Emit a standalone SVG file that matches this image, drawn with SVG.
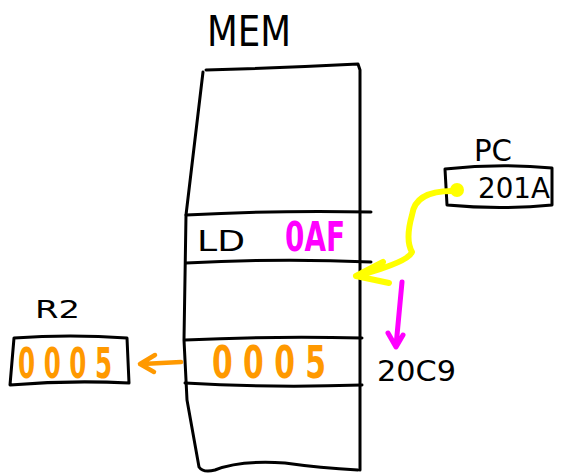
<svg xmlns="http://www.w3.org/2000/svg" width="562" height="476" viewBox="0 0 562 476">
<style>
.ink{fill:none;stroke:#000;stroke-width:3;stroke-linecap:round;stroke-linejoin:round}
.t{font-family:"DejaVu Sans","Liberation Sans",sans-serif;fill:#000}
.or{fill:#FF9900;font-family:"DejaVu Sans",sans-serif;font-weight:bold}
.mg{fill:#FF00FF;font-family:"DejaVu Sans",sans-serif;font-weight:bold}
</style>
<rect width="562" height="476" fill="#fff"/>
<g id="mem">
<text class="t" x="207" y="46" font-size="42" textLength="84" lengthAdjust="spacingAndGlyphs">MEM</text>
<path class="ink" d="M206,70 Q280,68 358,64 L360,70 L360,470"/>
<path class="ink" d="M203,72 L186,215 L184,340 L187,400 L199,467 Q203,473 215,470 Q240,460 285,463 Q320,468 358,470"/>
<path class="ink" d="M186,215 Q280,210 371,212"/>
<path class="ink" d="M186,263 Q280,258 371,262"/>
<path class="ink" d="M185,340 Q270,336 362,338"/>
<path class="ink" d="M185,383 Q270,388 362,385"/>
<text class="t" x="197" y="251" font-size="28" textLength="48" lengthAdjust="spacingAndGlyphs">LD</text>
<text class="mg" x="285" y="251" font-size="40" textLength="60" lengthAdjust="spacingAndGlyphs">0AF</text>
<text class="or" x="212" y="378" font-size="44" textLength="114" lengthAdjust="spacingAndGlyphs">0 0 0 5</text>
<text class="t" x="377" y="381" font-size="28" textLength="79" lengthAdjust="spacingAndGlyphs">20C9</text>
</g>
<g id="pc">
<text class="t" x="474" y="161" font-size="30" textLength="38" lengthAdjust="spacingAndGlyphs">PC</text>
<path class="ink" d="M445,169 Q500,163 552,168 L552,205 Q500,210 447,205 Z"/>
<text class="t" x="478" y="198" font-size="28" textLength="72" lengthAdjust="spacingAndGlyphs">201A</text>
</g>
<g id="r2">
<text class="t" x="35" y="318" font-size="25" textLength="45" lengthAdjust="spacingAndGlyphs">R2</text>
<path class="ink" d="M14,338 Q70,334 127,338 L129,383 Q70,380 10,385 Z"/>
<text class="or" x="18" y="378" font-size="42" textLength="94" lengthAdjust="spacingAndGlyphs">0 0 0 5</text>
</g>
<g id="connectors" fill="none" stroke-linecap="round" stroke-linejoin="round">
<path d="M181,362 L142,364 M155,355 L140,364 L154,372" stroke="#FF9900" stroke-width="4.5"/>
<circle cx="457" cy="190" r="7" fill="#FFFF00"/>
<path d="M455,191 Q415,190 412,215 Q405,240 412,252 Q408,262 360,275 M383,262 L356,276 L389,283" stroke="#FFFF00" stroke-width="6"/>
<path d="M402,282 L396,346 M388,333 L396,347 L403,335" stroke="#FF00FF" stroke-width="5"/>
</g>
</svg>
